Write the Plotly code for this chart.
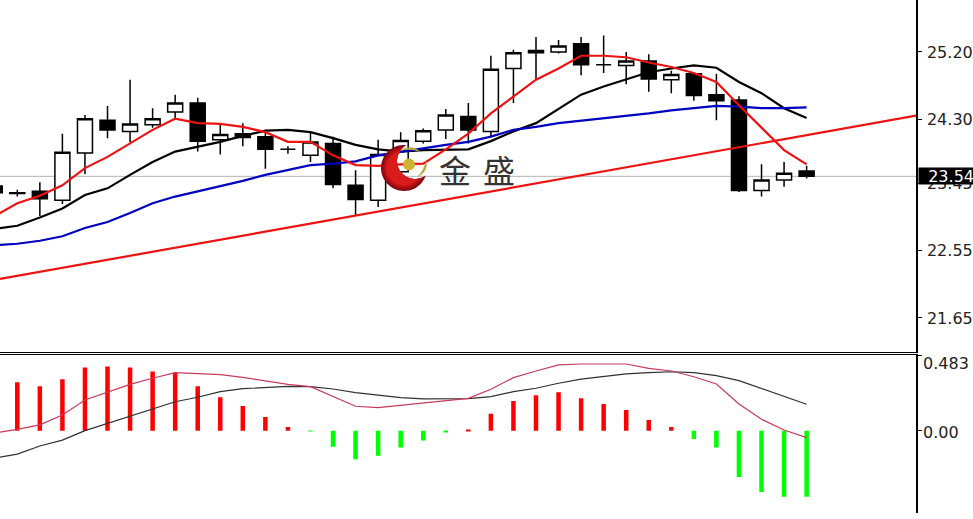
import math
import plotly.graph_objects as go

idx = list(range(-1, 36))
opens = [23.41,23.32,23.34,23.22,23.85,24.29,24.14,24.23,24.40,24.52,24.03,24.11,24.07,23.90,23.82,23.98,23.42,23.22,23.60,24.01,24.16,24.34,24.14,24.98,25.19,25.20,25.31,25.03,25.02,25.08,24.83,24.91,24.63,24.56,23.35,23.49,23.61]
highs = [23.44,23.36,23.46,24.11,24.36,24.48,24.83,24.45,24.63,24.59,24.24,24.25,24.12,23.94,24.12,24.07,23.62,24.03,24.13,24.18,24.44,24.52,25.15,25.23,25.40,25.36,25.40,25.42,25.20,25.17,24.95,24.91,24.91,24.61,23.70,23.73,23.68]
lows = [23.29,23.27,23.01,23.17,23.57,24.05,24.00,24.19,24.30,23.87,23.83,23.94,23.64,23.84,23.73,23.38,23.02,23.13,23.49,23.98,24.04,23.98,24.07,24.52,24.84,25.18,24.89,24.92,24.77,24.67,24.65,24.55,24.29,23.33,23.27,23.40,23.51]
closes = [23.32,23.31,23.24,23.86,24.31,24.16,24.24,24.31,24.52,24.01,24.10,24.06,23.90,23.90,24.00,23.43,23.23,23.83,24.02,24.15,24.36,24.16,24.97,25.19,25.22,25.28,25.03,25.03,25.08,24.84,24.90,24.62,24.55,23.35,23.49,23.58,23.54]

ma_red = [23.01,23.18,23.28,23.42,23.65,23.80,23.98,24.16,24.31,24.25,24.24,24.20,24.13,24.00,24.00,23.82,23.69,23.68,23.70,23.71,23.90,24.11,24.38,24.60,24.83,24.98,25.15,25.15,25.13,25.06,25.00,24.92,24.80,24.49,24.19,23.89,23.70]
ma_black = [22.84,22.88,22.99,23.11,23.29,23.38,23.56,23.73,23.87,23.93,24.00,24.08,24.15,24.16,24.13,24.05,23.96,23.90,23.87,23.89,23.89,23.90,24.01,24.14,24.25,24.44,24.63,24.74,24.84,24.93,24.98,25.02,24.99,24.80,24.65,24.45,24.32]
ma_blue = [22.62,22.64,22.68,22.74,22.85,22.93,23.05,23.18,23.27,23.34,23.40,23.48,23.56,23.62,23.69,23.71,23.74,23.82,23.87,23.91,23.96,24.00,24.07,24.16,24.20,24.25,24.28,24.31,24.34,24.38,24.42,24.45,24.48,24.47,24.45,24.45,24.46]
trend_x = [-0.77, 39.85]
trend_y = [22.17, 24.35]
last_price = 23.54

macd_idx = list(range(0, 36))
macd_hist = [.312,.286,.331,.406,.412,.406,.380,.373,.286,.215,.159,.088,.024,-.004,-.103,-.184,-.161,-.109,-.064,-.006,.004,.108,.191,.228,.247,.209,.172,.133,.069,.024,-.053,-.109,-.298,-.395,-.425,-.425]
macd_pink = [-.015,.008,.037,.101,.197,.247,.298,.337,.373,.367,.361,.343,.320,.298,.283,.219,.157,.148,.163,.176,.193,.208,.266,.341,.384,.423,.429,.429,.429,.401,.384,.347,.300,.171,.073,.004,-.045]
macd_dark = [-.176,-.151,-.099,-.061,0,.047,.094,.139,.186,.215,.251,.270,.279,.285,.283,.268,.245,.229,.212,.204,.204,.206,.219,.251,.273,.305,.331,.347,.365,.373,.379,.373,.354,.322,.270,.219,.170]

price_ticks = [25.20, 24.30, 23.45, 22.55, 21.65]
macd_ticks = [0.483, 0.0]

W, H = 973, 519
FONT = "DejaVu Sans"
px = lambda v: v / W
py = lambda v: 1 - v / H


def logo_crescent(R, ox=404.0, oy=168.0, ix=415.0, iy=161.0, ir=18.0):
    """Crescent outline in paper coordinates: outer arc of radius R minus the inner circle."""
    d = math.hypot(ix - ox, iy - oy)
    base = math.atan2(iy - oy, ix - ox)
    half = math.acos((d * d + R * R - ir * ir) / (2 * d * R))
    pts = []
    n = 40
    for i in range(n + 1):
        a = base + half + (2 * math.pi - 2 * half) * i / n
        pts.append((ox + R * math.cos(a), oy + R * math.sin(a)))
    b1 = math.atan2(pts[-1][1] - iy, pts[-1][0] - ix)
    b2 = math.atan2(pts[0][1] - iy, pts[0][0] - ix)
    if b2 > b1:
        b2 -= 2 * math.pi
    for i in range(1, n):
        a = b1 + (b2 - b1) * i / n
        pts.append((ix + ir * math.cos(a), iy + ir * math.sin(a)))
    return "M " + " L ".join(f"{px(x):.5f} {py(y):.5f}" for x, y in pts) + " Z"


def paper_path(cmds):
    out = []
    for c in cmds:
        if isinstance(c, str):
            out.append(c)
        else:
            out.append(f"{px(c[0]):.5f} {py(c[1]):.5f}")
    return " ".join(out)


logo_shapes = [
    dict(type="path", xref="paper", yref="paper", layer="above", line=dict(width=0), fillcolor=c, path=logo_crescent(r))
    for r, c in [(23, "#7e0a0e"), (21.5, "#a00c12"), (19.5, "#c01216"), (17.5, "#d81c1c")]
]
logo_shapes += [
    dict(type="path", xref="paper", yref="paper", layer="above", line=dict(width=0), fillcolor="#b9a63a",
         path=paper_path(["M", (400, 151), "Q", (411, 143), (421, 152), "Q", (410, 148), (400, 151), "Z"])),
    dict(type="path", xref="paper", yref="paper", layer="above", line=dict(width=0), fillcolor="#b9a63a",
         path=paper_path(["M", (426, 160), "Q", (429, 172), (417, 177), "Q", (424, 171), (426, 160), "Z"])),
    dict(type="circle", xref="paper", yref="paper", layer="above", line=dict(width=0), fillcolor="#cdb431",
         x0=px(403), x1=px(415), y0=py(170.5), y1=py(158.5)),
]

fig = go.Figure()
fig.add_trace(go.Candlestick(
    x=idx, open=opens, high=highs, low=lows, close=closes, xaxis="x", yaxis="y",
    increasing=dict(line=dict(color="#000000", width=1.5), fillcolor="#ffffff"),
    decreasing=dict(line=dict(color="#000000", width=1.5), fillcolor="#000000"),
    whiskerwidth=0, showlegend=False))
fig.add_trace(go.Scatter(x=idx, y=ma_black, mode="lines", line=dict(color="#000000", width=2.2), xaxis="x", yaxis="y"))
fig.add_trace(go.Scatter(x=idx, y=ma_blue, mode="lines", line=dict(color="#0000c0", width=2.2), xaxis="x", yaxis="y"))
fig.add_trace(go.Scatter(x=idx, y=ma_red, mode="lines", line=dict(color="#ee1111", width=2.2), xaxis="x", yaxis="y"))
fig.add_trace(go.Scatter(x=trend_x, y=trend_y, mode="lines", line=dict(color="#ee1111", width=2.2), xaxis="x", yaxis="y"))

fig.add_trace(go.Bar(
    x=macd_idx, y=macd_hist, width=0.2,
    marker=dict(color=["#ff0000" if v > 0 else "#00ff00" for v in macd_hist], line=dict(width=0)),
    xaxis="x2", yaxis="y2"))
fig.add_trace(go.Scatter(x=idx, y=macd_dark, mode="lines", line=dict(color="#303030", width=1.2), xaxis="x2", yaxis="y2"))
fig.add_trace(go.Scatter(x=idx, y=macd_pink, mode="lines", line=dict(color="#c83a5a", width=1.2), xaxis="x2", yaxis="y2"))

x_range = [-0.767, 39.85]
right = 916 / W
tickfont = dict(family=FONT, size=16, color="#222222")
fig.update_layout(
    width=W, height=H, margin=dict(l=0, r=0, t=0, b=0),
    paper_bgcolor="#ffffff", plot_bgcolor="#ffffff", showlegend=False, boxgap=0.05,
    xaxis=dict(domain=[0, right], range=x_range, type="linear", showgrid=False, zeroline=False,
               showticklabels=False, ticks="", rangeslider=dict(visible=False),
               showline=True, linecolor="#000000", linewidth=1, anchor="y"),
    yaxis=dict(domain=[py(352), 1], range=[21.195, 25.894], side="right", anchor="x",
               tickvals=price_ticks, ticktext=[f"{t:.2f}" for t in price_ticks], tickfont=tickfont,
               ticks="outside", ticklen=4, tickcolor="#000000", showgrid=False, zeroline=False,
               ticklabelstandoff=2, showline=True, linecolor="#000000", linewidth=1.5),
    xaxis2=dict(domain=[0, right], range=x_range, type="linear", showgrid=False, zeroline=False,
                showticklabels=False, ticks="", side="top", anchor="y2",
                showline=True, linecolor="#000000", linewidth=1),
    yaxis2=dict(domain=[py(513), py(354.5)], range=[-0.530, 0.490], side="right", anchor="x2",
                tickvals=macd_ticks, ticktext=["", ""], tickfont=tickfont,
                ticks="outside", ticklen=4, tickcolor="#000000", showgrid=False, zeroline=False,
                showline=True, linecolor="#000000", linewidth=1.5),
    shapes=[
        dict(type="line", xref="paper", x0=0, x1=right, yref="y", y0=last_price, y1=last_price,
             line=dict(color="#b4b4b4", width=1), layer="below"),
    ] + logo_shapes,
    annotations=[
        dict(xref="paper", yref="y2", x=921 / W, y=macd_ticks[0], yshift=-8, xanchor="left", text="0.483",
             showarrow=False, font=tickfont),
        dict(xref="paper", yref="y2", x=921 / W, y=macd_ticks[1], yshift=-1.5, xanchor="left", text="0.00",
             showarrow=False, font=tickfont),
        dict(xref="paper", yref="y", x=918 / W, y=last_price, xanchor="left", yanchor="middle", text="23.54",
             showarrow=False, bgcolor="#000000", font=dict(family=FONT, size=16, color="#ffffff"),
             width=55, height=16, align="right", borderpad=0),
        dict(xref="paper", yref="paper", x=454.5 / W, y=py(169), xanchor="center", yanchor="middle", text="金", showarrow=False,
             font=dict(family="Noto Sans CJK SC", size=32, color="#333333")),
        dict(xref="paper", yref="paper", x=499.5 / W, y=py(169), xanchor="center", yanchor="middle", text="盛", showarrow=False,
             font=dict(family="Noto Sans CJK SC", size=32, color="#333333")),
    ],
)
fig.write_html("out.html", post_script="document.body.style.margin='0';", config=dict(displayModeBar=False))
